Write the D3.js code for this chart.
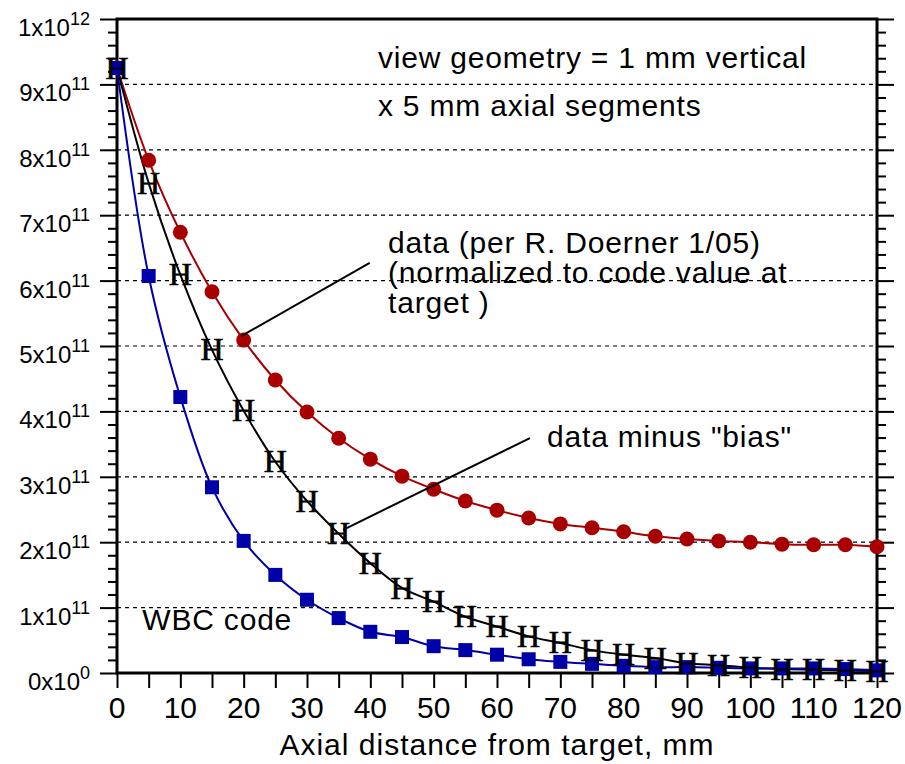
<!DOCTYPE html>
<html>
<head>
<meta charset="utf-8">
<script src="https://cdn.jsdelivr.net/npm/d3@7"></script>
<style>
  body { margin: 0; background: #fff; }
  text { font-family: "Liberation Sans", Arial, sans-serif; fill: #000; }
</style>
</head>
<body>
<svg width="905" height="764"></svg>
<script>
// axial positions, mm
var distance = [0,5,10,15,20,25,30,35,40,45,50,55,60,65,70,75,80,85,90,95,100,105,110,115,120]
// values in units of 1e11
var dataDoerner = [9.25,7.84,6.74,5.83,5.09,4.48,3.99,3.59,3.27,3.01,2.81,2.63,2.49,2.37,2.28,2.22,2.16,2.09,2.05,2.02,2.00,1.97,1.96,1.96,1.93]
var dataMinusBias = [9.25,7.49,6.09,4.94,4.01,3.23,2.63,2.13,1.68,1.30,1.09,0.86,0.71,0.56,0.46,0.35,0.28,0.23,0.15,0.12,0.08,0.06,0.05,0.04,0.03]
var wbcCode = [9.25,6.07,4.22,2.84,2.02,1.50,1.12,0.84,0.63,0.55,0.41,0.35,0.28,0.21,0.17,0.14,0.11,0.09,0.09,0.08,0.07,0.07,0.07,0.06,0.04]

var xTicks = [0,10,20,30,40,50,60,70,80,90,100,110,120]
var yTickValues = [0,1,2,3,4,5,6,7,8,9,10]
var yTickMant = ["0","1","2","3","4","5","6","7","8","9","1"]
var yTickExp = ["0","11","11","11","11","11","11","11","11","11","12"]

var svg = d3.select("svg")
var x = d3.scaleLinear().domain([0,120]).range([117,877])
var y = d3.scaleLinear().domain([0,10]).range([673,19])

// dashed grid
svg.append("g").selectAll("line")
    .data(yTickValues.slice(1,10))
    .enter().append("line")
    .attr("x1", x(0)).attr("x2", x(120))
    .attr("y1", d=>y(d)).attr("y2", d=>y(d))
    .style("stroke","#000").style("stroke-width",1.2)
    .style("stroke-dasharray","4,4")

// left axis, ticks outward
var left = svg.append("g").attr("transform","translate(" + x(0) + ",0)")
    .call(d3.axisLeft(y).tickValues(d3.range(0,10.01,0.2)).tickSize(9).tickFormat(""))
left.selectAll(".tick line").filter(d=>Math.abs(d-Math.round(d))<1e-6).attr("x2",-17)
var right = svg.append("g").attr("transform","translate(" + x(120) + ",0)")
    .call(d3.axisRight(y).tickValues(d3.range(0,10.01,0.2)).tickSize(9).tickFormat(""))
right.selectAll(".tick line").filter(d=>Math.abs(d-Math.round(d))<1e-6).attr("x2",17)
var bottom = svg.append("g").attr("transform","translate(0," + y(0) + ")")
    .call(d3.axisBottom(x).tickValues(d3.range(0,121,5)).tickSize(15).tickFormat(""))
svg.selectAll(".domain").remove()
svg.selectAll(".tick line").style("stroke","#000").style("stroke-width",2)

// frame
svg.append("rect")
    .attr("x", x(0)).attr("y", y(10))
    .attr("width", x(120)-x(0)).attr("height", y(0)-y(10))
    .style("fill","none").style("stroke","#000").style("stroke-width",3)

// y tick labels with superscripts
var yl = svg.append("g").selectAll("text")
    .data(yTickValues)
    .enter().append("text")
    .attr("x", 90)
    .attr("y", d=>y(d)+17)
    .attr("text-anchor","end")
    .style("font-size","24px")
yl.append("tspan").text((d,i)=>yTickMant[i] + "x10")
yl.append("tspan").attr("dy",-11).style("font-size","18px").text((d,i)=>yTickExp[i])

// x tick labels
svg.append("g").selectAll("text")
    .data(xTicks)
    .enter().append("text")
    .attr("x", d=>x(d))
    .attr("y", 718)
    .attr("text-anchor","middle")
    .style("font-size","30px")
    .text(d=>d)

svg.append("text")
    .attr("x", (x(0)+x(120))/2).attr("y", 755)
    .attr("text-anchor","middle")
    .style("font-size","30px")
    .style("letter-spacing","1px")
    .text("Axial distance from target, mm")

var line = d3.line().x(d=>x(d[0])).y(d=>y(d[1])).curve(d3.curveCatmullRom.alpha(0.5))
function pairs(vals){ return distance.map((d,i)=>[d, vals[i]]) }

// data (red)
svg.append("path").attr("d", line(pairs(dataDoerner)))
    .style("fill","none").style("stroke","#a80000").style("stroke-width",2)
// data minus bias (black)
svg.append("path").attr("d", line(pairs(dataMinusBias)))
    .style("fill","none").style("stroke","#000").style("stroke-width",2)
// WBC code (blue)
svg.append("path").attr("d", line(pairs(wbcCode)))
    .style("fill","none").style("stroke","#0000a8").style("stroke-width",2)

svg.append("g").selectAll("circle")
    .data(pairs(dataDoerner))
    .enter().append("circle")
    .attr("cx", d=>x(d[0])).attr("cy", d=>y(d[1]))
    .attr("r", 7.5)
    .style("fill","#a80000")

svg.append("g").selectAll("rect")
    .data(pairs(wbcCode))
    .enter().append("rect")
    .attr("x", d=>x(d[0])-7).attr("y", d=>y(d[1])-7)
    .attr("width", 14).attr("height", 14)
    .style("fill","#0000a8")

svg.append("g").selectAll("text")
    .data(pairs(dataMinusBias))
    .enter().append("text")
    .attr("x", d=>x(d[0])).attr("y", d=>y(d[1]))
    .attr("dy","0.33em")
    .attr("text-anchor","middle")
    .style("font-family","'Liberation Serif', 'Times New Roman', serif")
    .style("font-size","32px")
    .style("stroke","#000").style("stroke-width",0.6)
    .text("H")

// annotations
var notes = [
  {t:"view geometry = 1 mm vertical", mm:41.2, v:9.25},
  {t:"x 5 mm axial segments", mm:41.2, v:8.52},
  {t:"data (per R. Doerner 1/05)", mm:42.8, v:6.42},
  {t:"(normalized to code value at", mm:42.8, v:5.96},
  {t:"target )", mm:42.8, v:5.50},
  {t:"data minus \"bias\"", mm:67.9, v:3.45},
  {t:"WBC code", mm:4.0, v:0.66}
]
svg.append("g").selectAll("text")
    .data(notes)
    .enter().append("text")
    .attr("x", d=>x(d.mm)).attr("y", d=>y(d.v))
    .style("font-size","30px")
    .style("letter-spacing","0.8px")
    .text(d=>d.t)

var leaders = [
  {x1:19.6, y1:5.15, x2:39.9, y2:6.27},
  {x1:35.7, y1:2.19, x2:65.2, y2:3.59}
]
svg.append("g").selectAll("line")
    .data(leaders)
    .enter().append("line")
    .attr("x1", d=>x(d.x1)).attr("y1", d=>y(d.y1))
    .attr("x2", d=>x(d.x2)).attr("y2", d=>y(d.y2))
    .style("stroke","#000").style("stroke-width",2)
</script>
</body>
</html>
